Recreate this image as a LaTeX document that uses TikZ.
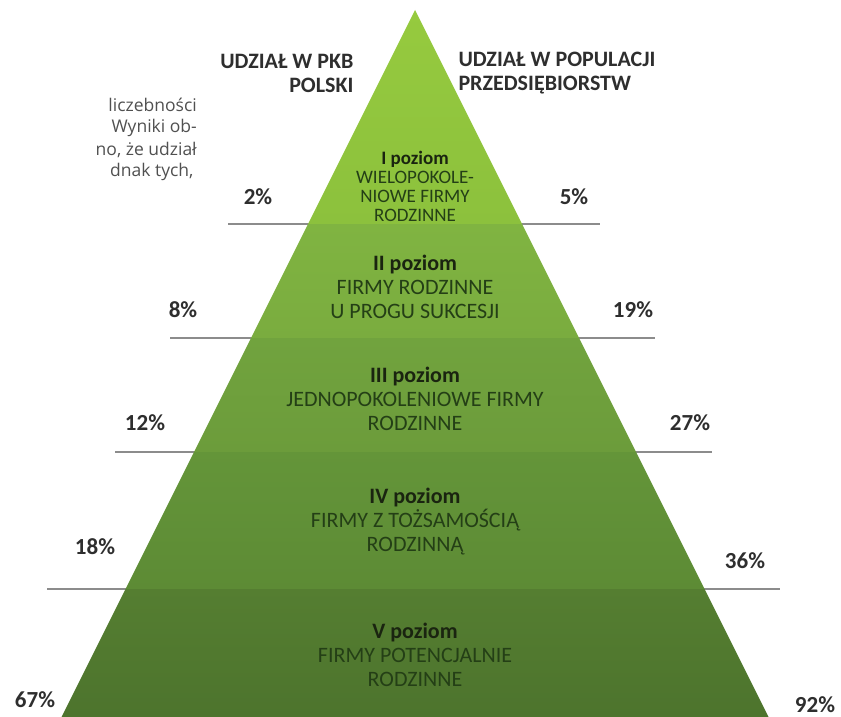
\documentclass[tikz,border=0pt]{standalone}
\usepackage{fontspec}
\setmainfont{Carlito}
\newfontfamily\articlefont{Open Sans}
\usetikzlibrary{positioning}
\definecolor{LevelOneTop}{HTML}{96CA3E}
\definecolor{LevelOneBot}{HTML}{8CC13D}
\definecolor{LevelTwoTop}{HTML}{80B441}
\definecolor{LevelTwoBot}{HTML}{7AAC3F}
\definecolor{LevelThreeTop}{HTML}{71A33E}
\definecolor{LevelThreeBot}{HTML}{6C9C3B}
\definecolor{LevelFourTop}{HTML}{649539}
\definecolor{LevelFourBot}{HTML}{5D8B35}
\definecolor{LevelFiveTop}{HTML}{557E31}
\definecolor{LevelFiveBot}{HTML}{4D742D}
\definecolor{LevelTitle}{HTML}{1A2410}
\definecolor{LevelText}{HTML}{243F16}
\definecolor{LabelGray}{HTML}{2E2E2E}
\definecolor{ArticleGray}{HTML}{505050}
\definecolor{SepGray}{HTML}{8C8C8C}

\begin{document}
\begin{tikzpicture}[x=1pt, y=-1pt,
    pct/.style={font=\bfseries\fontsize{23}{23}\selectfont, text=LabelGray},
    head/.style={font=\bfseries\fontsize{22}{24}\selectfont, text=LabelGray},
    level/.style={align=center, text=LevelText, font=\fontsize{22}{24}\selectfont},
    article/.style={font=\articlefont\fontsize{17.5}{17.5}\selectfont, text=ArticleGray, inner sep=0pt},
    sepline/.style={SepGray, line width=1.5pt}]
    \useasboundingbox (0,0) rectangle (841,717);

    % Separator lines (behind the pyramid)
    \draw[sepline] (228,224) -- (600,224);
    \draw[sepline] (170,338) -- (655,338);
    \draw[sepline] (115,452) -- (712,452);
    \draw[sepline] (47,589) -- (780,589);

    % Pyramid bands, top to bottom
    \shade[top color=LevelOneTop, bottom color=LevelOneBot]
        (415,10) -- (522,224) -- (308,224) -- cycle;
    \shade[top color=LevelTwoTop, bottom color=LevelTwoBot]
        (308,224) -- (522,224) -- (579,338) -- (251,338) -- cycle;
    \shade[top color=LevelThreeTop, bottom color=LevelThreeBot]
        (251,338) -- (579,338) -- (636,452) -- (194,452) -- cycle;
    \shade[top color=LevelFourTop, bottom color=LevelFourBot]
        (194,452) -- (636,452) -- (704.5,589) -- (125.5,589) -- cycle;
    \shade[top color=LevelFiveTop, bottom color=LevelFiveBot]
        (125.5,589) -- (704.5,589) -- (768.5,717) -- (61.5,717) -- cycle;

    % Level descriptions
    \node[level, font=\fontsize{19}{19}\selectfont] (lvlone) at (415,186)
        {{\bfseries\color{LevelTitle}I poziom}\\WIELOPOKOLE-\\NIOWE FIRMY\\RODZINNE};
    \node[level] (lvltwo) at (415,287)
        {{\bfseries\color{LevelTitle}II poziom}\\FIRMY RODZINNE\\U PROGU SUKCESJI};
    \node[level] (lvlthree) at (415,399)
        {{\bfseries\color{LevelTitle}III poziom}\\JEDNOPOKOLENIOWE FIRMY\\RODZINNE};
    \node[level] (lvlfour) at (415,522)
        {{\bfseries\color{LevelTitle}IV poziom}\\FIRMY Z TOŻSAMOŚCIĄ\\RODZINNĄ};
    \node[level] (lvlfive) at (415,655)
        {{\bfseries\color{LevelTitle}V poziom}\\FIRMY POTENCJALNIE\\RODZINNE};

    % Column headers
    \node[head, align=right, anchor=east] (gdphead) at (357,73)
        {UDZIAŁ W PKB\\POLSKI};
    \node[head, align=left, anchor=west] (pophead) at (455,73)
        {UDZIAŁ W POPULACJI\\PRZEDSIĘBIORSTW};

    % Share of GDP
    \node[pct] (gdpone) at (258,197) {2\%};
    \node[pct] (gdptwo) at (183,310) {8\%};
    \node[pct] (gdpthree) at (145,423) {12\%};
    \node[pct] (gdpfour) at (95,547) {18\%};
    \node[pct] (gdpfive) at (35,700) {67\%};

    % Share of companies
    \node[pct] (popone) at (574,197) {5\%};
    \node[pct] (poptwo) at (633,310) {19\%};
    \node[pct] (popthree) at (690,423) {27\%};
    \node[pct] (popfour) at (745,561) {36\%};
    \node[pct] (popfive) at (815,705) {92\%};

    % Cut-off article text
    \node[article, anchor=east] (artone) at (197,105) {liczebności};
    \node[article, anchor=east] (arttwo) at (197,128) {Wyniki ob-};
    \node[article, anchor=east] (artthree) at (197,150) {no, że udział};
    \node[article, anchor=west] (artfour) at (110,172) {dnak tych,};
\end{tikzpicture}
\end{document}
